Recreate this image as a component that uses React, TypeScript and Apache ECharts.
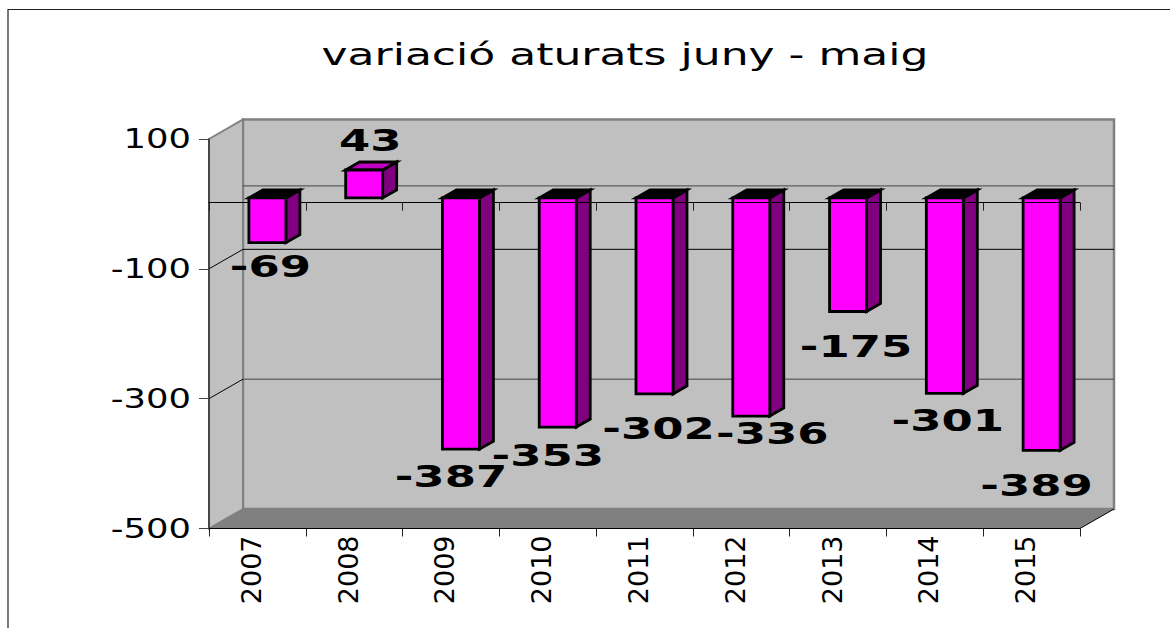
import React, { useEffect, useRef } from "react";
import * as echarts from "echarts";

const titleText = "variació aturats juny - maig";
const years = ["2007", "2008", "2009", "2010", "2011", "2012", "2013", "2014", "2015"];
const variation = [-69, 43, -387, -353, -302, -336, -175, -301, -389];
const yTicks = [-500, -300, -100, 100];
const wallGrid = [-300, -100, 0];
const wallDiagonals = [-300, -100];

// Hand placed label shift from the bar's end, in pixels (layout only).
const labelDx = [3, 6, -10, -10, 4, 21, 8, 3, -5];
const labelDy = [23, -30, 27, 28, 34, 17, 35, 27, 35];

const FONT = '"DejaVu Sans", sans-serif';
const DEPTH_X = 34;
const DEPTH_Y = -19.5;
const BAR_DX = 14;
const BAR_DY = -8;
const BAR_HALF = 18.5;
const BAR_SHIFT_X = 10;
const BAR_SHIFT_Y = -6;

function renderWalls(params: any, api: any) {
  const c = params.coordSys;
  const x0 = c.x;
  const x1 = c.x + c.width;
  const top = c.y;
  const bottom = c.y + c.height;
  const children: any[] = [
    {
      type: "rect",
      shape: { x: x0 + DEPTH_X, y: top + DEPTH_Y, width: c.width, height: c.height },
      style: { fill: "#C0C0C0", stroke: "#808080", lineWidth: 2.5 },
    },
    {
      type: "polygon",
      shape: {
        points: [
          [x0, top],
          [x0 + DEPTH_X, top + DEPTH_Y],
          [x0 + DEPTH_X, bottom + DEPTH_Y],
          [x0, bottom],
        ],
      },
      style: { fill: "#C0C0C0", stroke: "#808080", lineWidth: 2 },
    },
    {
      type: "polygon",
      shape: {
        points: [
          [x0, bottom],
          [x0 + DEPTH_X, bottom + DEPTH_Y],
          [x1 + DEPTH_X, bottom + DEPTH_Y],
          [x1, bottom],
        ],
      },
      style: { fill: "#808080" },
    },
    {
      type: "line",
      shape: { x1, y1: bottom, x2: x1 + DEPTH_X, y2: bottom + DEPTH_Y },
      style: { stroke: "#000", lineWidth: 1 },
    },
  ];
  wallGrid.forEach((v) => {
    const y = api.coord([0, v])[1] + DEPTH_Y + (v === 0 ? 1.5 : 0);
    children.push({
      type: "line",
      shape: { x1: x0 + DEPTH_X, y1: y, x2: x1 + DEPTH_X, y2: y },
      style: { stroke: v === -100 ? "#000" : "#444", lineWidth: 1 },
    });
  });
  wallDiagonals.forEach((v) => {
    const y = api.coord([0, v])[1];
    children.push({
      type: "line",
      shape: { x1: x0, y1: y, x2: x0 + DEPTH_X, y2: y + DEPTH_Y },
      style: { stroke: "#000", lineWidth: 1 },
    });
  });
  return { type: "group", children };
}

function renderBar(params: any, api: any) {
  const i = api.value(0);
  const v = api.value(1);
  const cx = api.coord([i, 0])[0] + BAR_SHIFT_X;
  const y0 = api.coord([i, 0])[1] + BAR_SHIFT_Y;
  const y1 = api.coord([i, v])[1] + BAR_SHIFT_Y;
  const l = cx - BAR_HALF;
  const r = cx + BAR_HALF;
  const hi = Math.min(y0, y1);
  const lo = Math.max(y0, y1);
  const edge = { stroke: "#000", lineWidth: 2.8, lineJoin: "miter" };
  return {
    type: "group",
    children: [
      {
        type: "polygon",
        shape: {
          points: [
            [r, hi],
            [r + BAR_DX, hi + BAR_DY],
            [r + BAR_DX, lo + BAR_DY],
            [r, lo],
          ],
        },
        style: { fill: "#800080", ...edge },
      },
      {
        type: "polygon",
        shape: {
          points: [
            [l, hi],
            [l + BAR_DX, hi + BAR_DY],
            [r + BAR_DX, hi + BAR_DY],
            [r, hi],
          ],
        },
        style: { fill: v < 0 ? "#000" : "#C000C0", ...edge },
      },
      {
        type: "rect",
        shape: { x: l, y: hi, width: r - l, height: lo - hi },
        style: { fill: "#FF00FF", ...edge },
      },
    ],
  };
}

function renderValueLabel(params: any, api: any) {
  const i = api.value(0);
  const v = api.value(1);
  const p = api.coord([i, v]);
  return {
    type: "text",
    x: p[0] + BAR_SHIFT_X + labelDx[i],
    y: p[1] + BAR_SHIFT_Y + labelDy[i],
    scaleX: 1.45,
    style: {
      text: String(v),
      font: `bold 31px ${FONT}`,
      fill: "#000",
      align: "center",
      verticalAlign: "middle",
    },
  };
}

function renderTickLabel(params: any, api: any) {
  const v = api.value(1);
  const p = api.coord([0, v]);
  return {
    type: "text",
    x: params.coordSys.x - 18,
    y: p[1],
    scaleX: 1.36,
    style: {
      text: String(v),
      font: `26px ${FONT}`,
      fill: "#000",
      align: "right",
      verticalAlign: "middle",
    },
  };
}

export default function App() {
  const ref = useRef<HTMLDivElement>(null);
  useEffect(() => {
    const chart = echarts.init(ref.current!, null, { renderer: "svg" });
    const barData = variation.map((v, i) => [i, v]);
    chart.setOption({
      animation: false,
      backgroundColor: "#fff",
      graphic: [
        {
          type: "rect",
          silent: true,
          shape: { x: 8, y: 9.5, width: 2000, height: 2000 },
          style: { fill: "none", stroke: "#222", lineWidth: 1.2 },
        },
        {
          type: "text",
          x: 625,
          y: 55,
          scaleX: 1.467,
          style: {
            text: titleText,
            font: `30px ${FONT}`,
            fill: "#000",
            align: "center",
            verticalAlign: "middle",
          },
        },
      ],
      grid: { left: 209, right: 90, top: 139, bottom: 99.5, containLabel: false },
      xAxis: [
        {
          type: "category",
          data: years,
          position: "bottom",
          z: 5,
          axisLine: { onZero: false, lineStyle: { color: "#000", width: 1 } },
          axisTick: { show: true, alignWithLabel: false, length: 8, lineStyle: { color: "#222" } },
          axisLabel: {
            interval: 0,
            rotate: 90,
            fontFamily: FONT,
            fontSize: 27,
            color: "#000",
            margin: 7,
            verticalAlign: "bottom",
            lineHeight: 12,
          },
        },
        {
          type: "category",
          data: years,
          position: "top",
          offset: -63.7,
          z: 5,
          axisLine: { onZero: false, lineStyle: { color: "#000", width: 1 } },
          axisTick: { show: true, inside: true, length: 8, lineStyle: { color: "#222" } },
          axisLabel: { show: false },
        },
      ],
      yAxis: {
        type: "value",
        min: -500,
        max: 100,
        z: 5,
        splitLine: { show: false },
        axisLine: { show: true, onZero: false, lineStyle: { color: "#333", width: 1.5 } },
        axisTick: { show: true, length: 10, customValues: yTicks, lineStyle: { color: "#444" } },
        axisLabel: { show: false },
      },
      series: [
        { type: "custom", name: "walls", z: 1, silent: true, clip: false, data: [[0, 0]], renderItem: renderWalls },
        {
          type: "custom",
          name: "bars behind axis",
          z: 3,
          clip: false,
          data: barData.filter((d) => d[0] >= 3),
          renderItem: renderBar,
        },
        {
          type: "custom",
          name: "bars in front of axis",
          z: 7,
          clip: false,
          data: barData.filter((d) => d[0] < 3),
          renderItem: renderBar,
        },
        { type: "custom", name: "value labels", z: 9, clip: false, data: barData, renderItem: renderValueLabel },
        {
          type: "custom",
          name: "tick labels",
          z: 9,
          clip: false,
          data: yTicks.map((v) => [0, v]),
          renderItem: renderTickLabel,
        },
      ],
    });
    return () => chart.dispose();
  }, []);
  return (
    <div
      ref={ref}
      style={{ position: "absolute", left: 0, top: 0, width: 1170, height: 628 }}
    />
  );
}
